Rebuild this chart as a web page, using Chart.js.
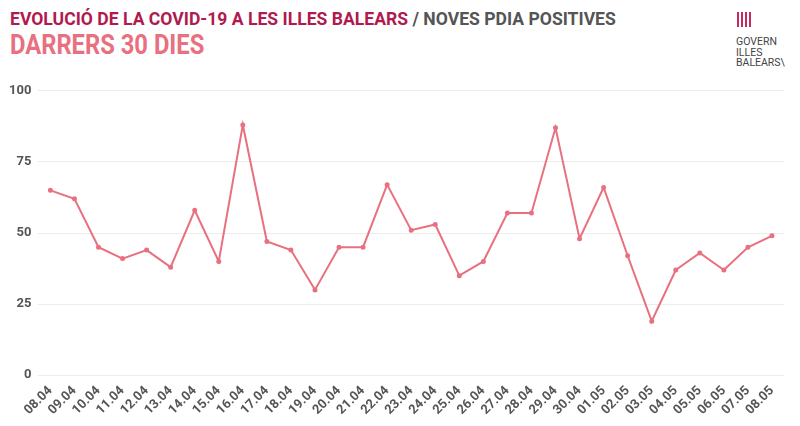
<!DOCTYPE html>
<html>
<head>
<meta charset="utf-8">
<script src="https://cdn.jsdelivr.net/npm/chart.js@4/dist/chart.umd.min.js"></script>
<style>
  body { margin: 0; background: #fff; width: 800px; height: 426px; overflow: hidden; font-family: Roboto, sans-serif; }
  #title { position: absolute; left: 10px; top: 7px; font-weight: bold; font-size: 19px; white-space: nowrap; transform: scaleX(0.925); transform-origin: left top; }
  #title .main { color: #b01a4f; }
  #title .sub { color: #555; }
  #subtitle { position: absolute; left: 10px; top: 29px; font-weight: bold; font-size: 27px; color: #e8707f; white-space: nowrap; transform: scaleX(0.88); transform-origin: left top; }
  #logo { position: absolute; left: 736px; top: 12px; font-size: 10.5px; line-height: 10.5px; color: #444; }
  #logo .mark { display: flex; gap: 2px; margin-left: 1px; margin-bottom: 10px; }
  #logo .mark span { display: block; width: 2px; height: 15px; background: #c8285c; }
  #wrap { position: absolute; left: 0; top: 76px; width: 800px; height: 346px; }
</style>
</head>
<body>
<div id="title"><span class="main">EVOLUCIÓ DE LA COVID-19 A LES ILLES BALEARS</span> <span class="sub">/ NOVES PDIA POSITIVES</span></div>
<div id="subtitle">DARRERS 30 DIES</div>
<div id="logo">
  <div class="mark"><span></span><span></span><span></span><span></span></div>
  GOVERN<br>ILLES<br>BALEARS\
</div>
<div id="wrap"><canvas id="chart"></canvas></div>
<script>
const labels = ['08.04','09.04','10.04','11.04','12.04','13.04','14.04','15.04','16.04','17.04',
  '18.04','19.04','20.04','21.04','22.04','23.04','24.04','25.04','26.04','27.04',
  '28.04','29.04','30.04','01.05','02.05','03.05','04.05','05.05','06.05','07.05','08.05']
const positives = [65, 62, 45, 41, 44, 38, 58, 40, 88, 47,
  44, 30, 45, 45, 67, 51, 53, 35, 40, 57,
  57, 87, 48, 66, 42, 19, 37, 43, 37, 45, 49]
const yTicks = [0, 25, 50, 75, 100]

const tickFont = {family: "Roboto, sans-serif", weight: 'bold', size: 13}

new Chart(document.getElementById('chart'), {
    type: 'line',
    data: {
        labels: labels,
        datasets: [{
            label: 'Noves PDIA positives',
            data: positives,
            borderColor: '#e8707f',
            backgroundColor: '#e8707f',
            borderWidth: 2,
            pointRadius: 1.5,
            pointHoverRadius: 2,
            tension: 0
        }]
    },
    options: {
        responsive: true,
        maintainAspectRatio: false,
        animation: false,
        layout: {padding: {left: 2, right: 16, top: 4, bottom: 4}},
        plugins: {legend: {display: false}, tooltip: {enabled: false}},
        scales: {
            x: {
                offset: true,
                grid: {display: false},
                border: {display: false},
                ticks: {color: '#555', font: tickFont, minRotation: 45, maxRotation: 45, padding: 0, autoSkip: false}
            },
            y: {
                min: 0,
                max: 100,
                afterBuildTicks: (axis) => { axis.ticks = yTicks.map((v) => ({value: v})) },
                grid: {color: '#ececec', drawTicks: false},
                border: {display: false},
                ticks: {color: '#555', font: tickFont, padding: 7}
            }
        }
    }
})
</script>
</body>
</html>
